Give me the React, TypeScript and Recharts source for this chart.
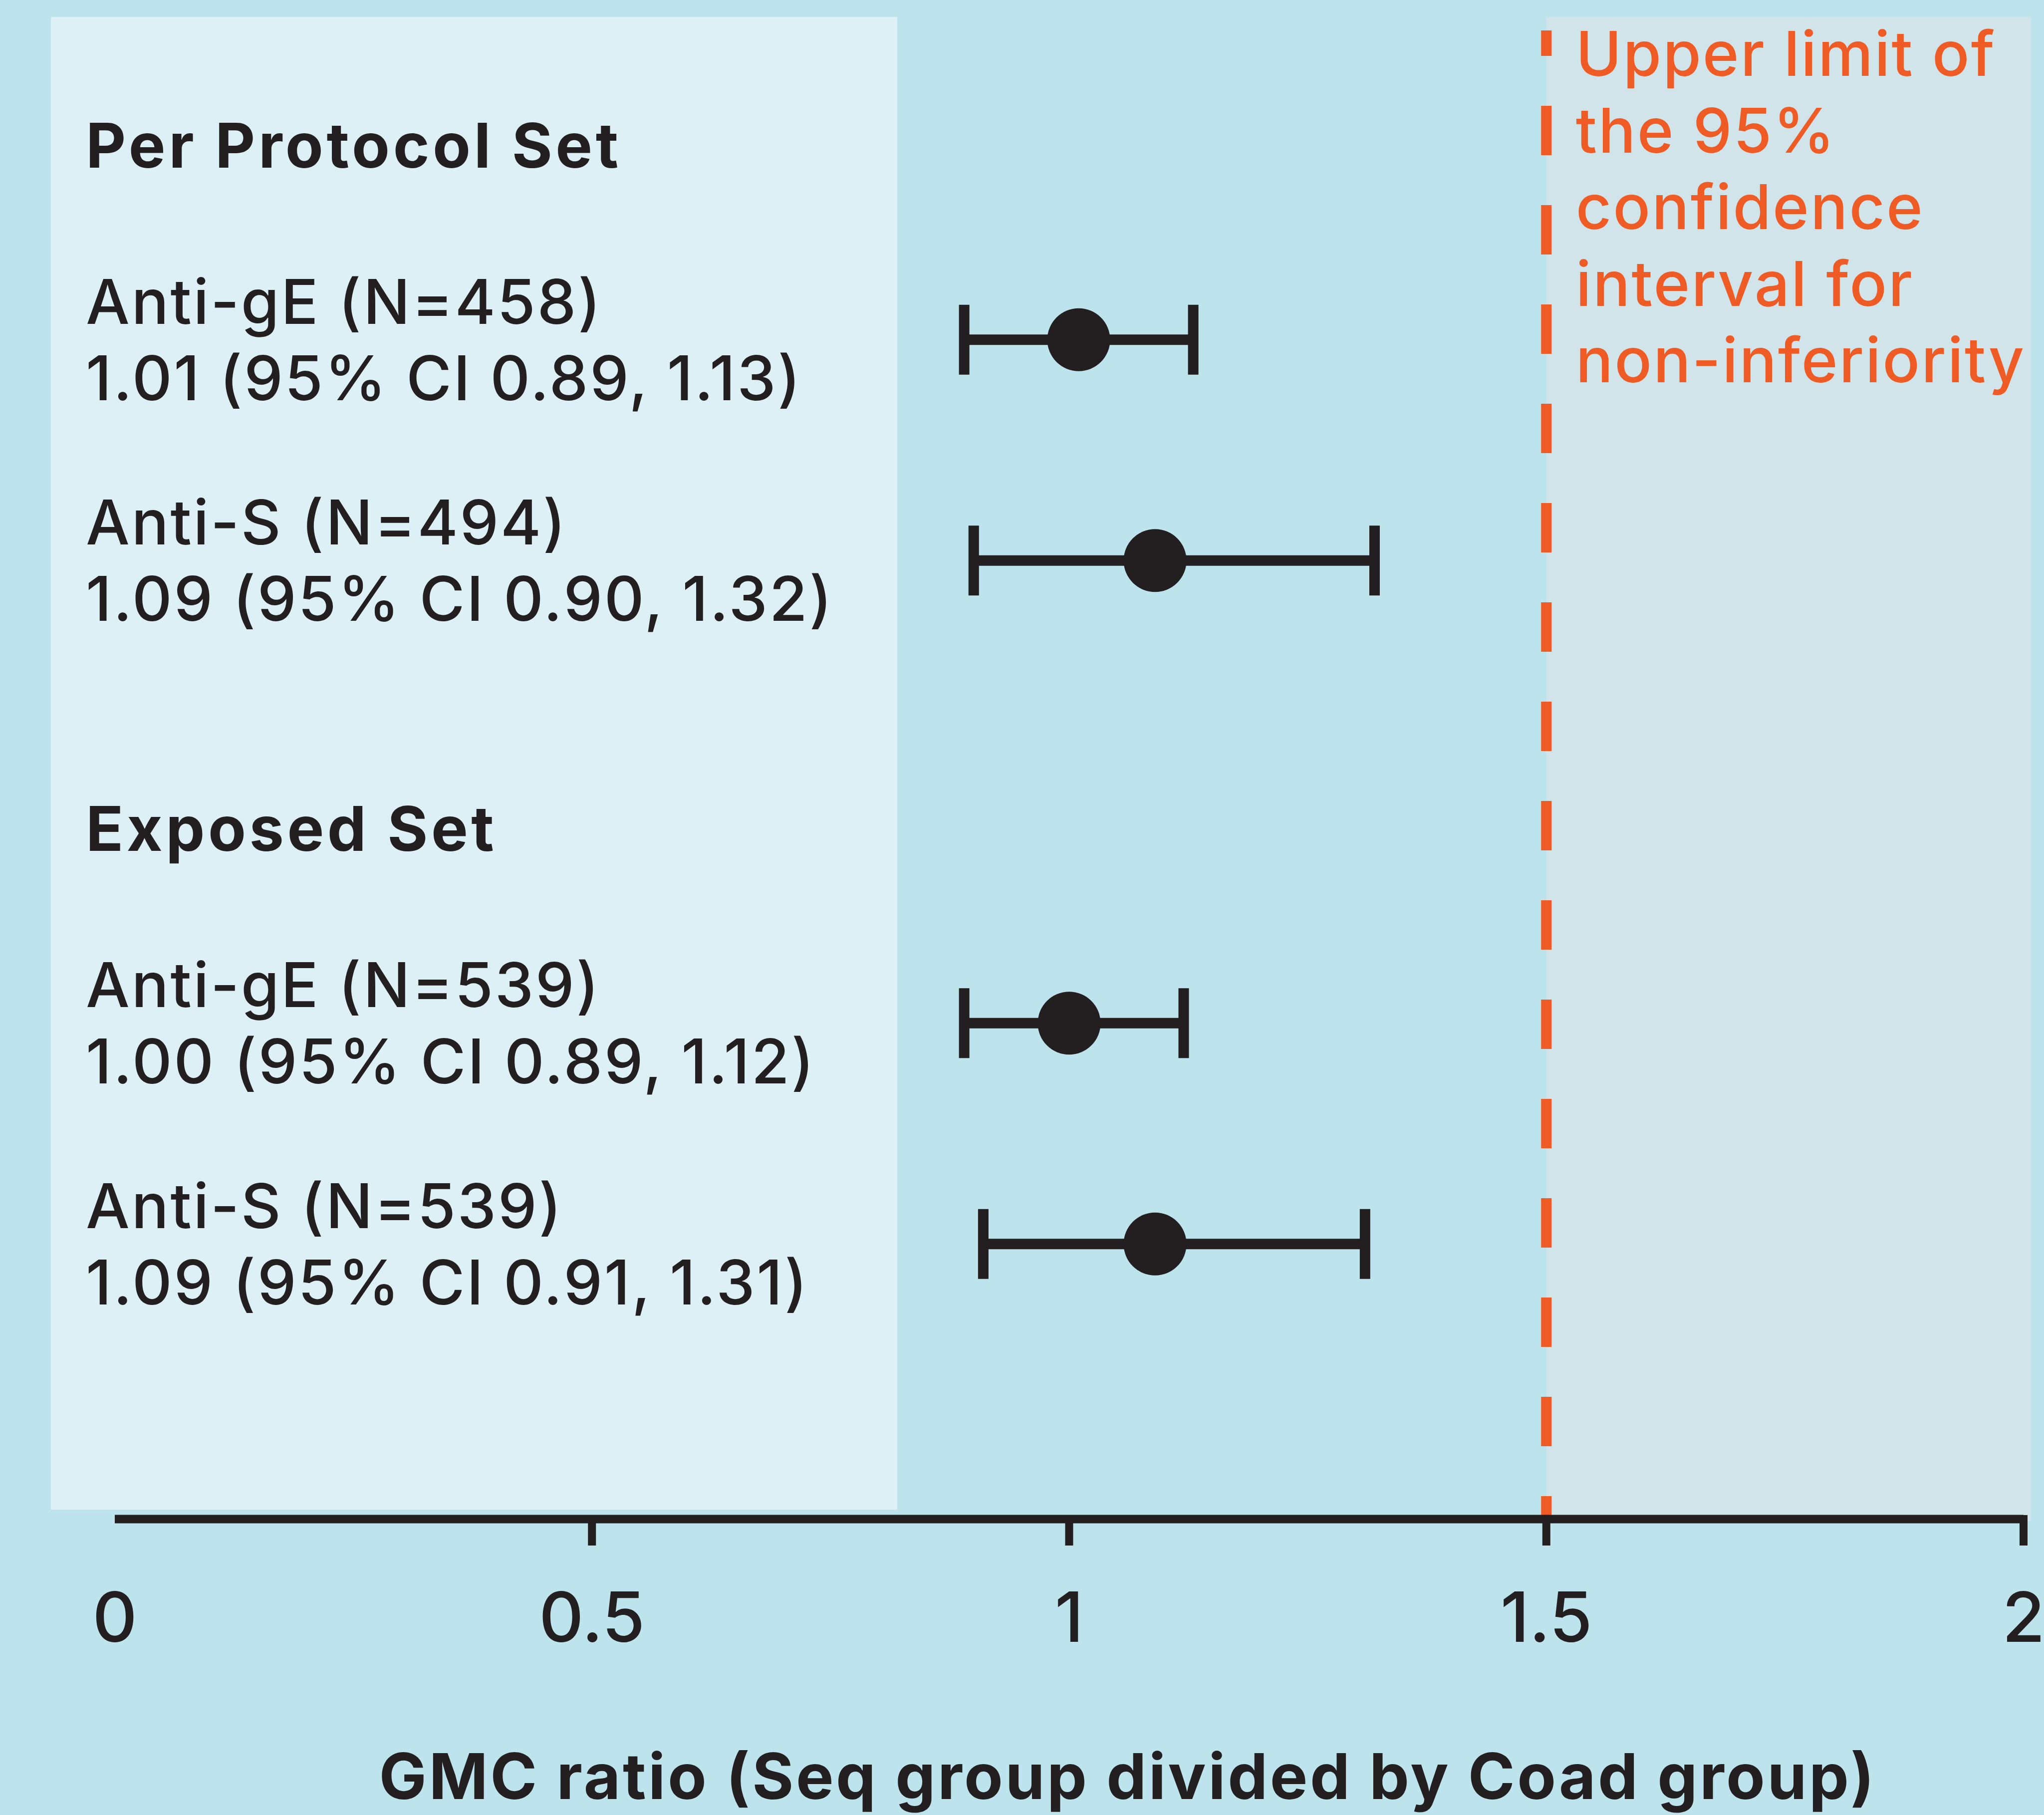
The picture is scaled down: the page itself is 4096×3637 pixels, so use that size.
import {
  ErrorBar,
  Label,
  ReferenceArea,
  ReferenceLine,
  Scatter,
  ScatterChart,
  XAxis,
  YAxis
} from "recharts";

// study sets and the antibody rows under each
const groups = ["Per Protocol Set", "Exposed Set"];
const antibodies = ["Anti-gE", "Anti-S", "Anti-gE", "Anti-S"];
const groupOf = [0, 0, 1, 1];
const nValues = [458, 494, 539, 539];
const gmcRatio = [1.01, 1.09, 1.0, 1.09];
const ciLower = [0.89, 0.9, 0.89, 0.91];
const ciUpper = [1.13, 1.32, 1.12, 1.31];

const xTicks = [0, 0.5, 1, 1.5, 2];
const niLimit = 1.5;
const annotationLines = ["Upper limit of", "the 95%", "confidence", "interval for", "non-inferiority"];
const axisTitle = "GMC ratio (Seq group divided by Coad group)";

const W = 4096;
const H = 3637;
const BG = "#BDE3ED";
const PANEL = "#DDF0F5";
const SHADE = "#D1E4EA";
const INK = "#231F20";
const ORANGE = "#EF5B25";
const FONT = "Inter, 'DejaVu Sans', sans-serif";
const GROUP_GAP = 1.095; // extra row slots between the two sets

const rows = antibodies.map((name, i) => ({
  name,
  group: groupOf[i],
  first: groupOf.indexOf(groupOf[i]) === i,
  n: nValues[i],
  ratio: gmcRatio[i],
  lo: ciLower[i],
  hi: ciUpper[i],
  slot: i + groupOf[i] * GROUP_GAP,
  err: [gmcRatio[i] - ciLower[i], ciUpper[i] - gmcRatio[i]]
}));

function RowTick({ y, payload }: any) {
  const row = rows.find((r) => Math.abs(r.slot - payload.value) < 1e-6);
  if (!row) {
    return null;
  }
  return (
    <g fontFamily={FONT} fill={INK}>
      {row.first && (
        <text x={172} y={y - 345} fontSize={124} fontWeight={700} letterSpacing={6.5}>
          {groups[row.group]}
        </text>
      )}
      <text x={172} y={y - 32} fontSize={124} fontWeight={500} letterSpacing={3.5}>
        {`${row.name} (N=${row.n})`}
      </text>
      <text x={172} y={y + 121} fontSize={124} fontWeight={500} letterSpacing={3.5}>
        {`${row.ratio.toFixed(2)} (95% CI ${row.lo.toFixed(2)}, ${row.hi.toFixed(2)})`}
      </text>
    </g>
  );
}

function AxisTick({ x, y, payload }: any) {
  const axisY = y - 53;
  return (
    <g>
      {payload.value !== 0 && (
        <line x1={x} x2={x} y1={axisY - 8} y2={y} stroke={INK} strokeWidth={16} />
      )}
      <text
        x={x}
        y={y + 193}
        textAnchor="middle"
        fontFamily={FONT}
        fontSize={139}
        fontWeight={500}
        fill={INK}
      >
        {String(payload.value)}
      </text>
    </g>
  );
}

function renderTitle() {
  return (
    <text
      x={2260}
      y={3605}
      textAnchor="middle"
      fontFamily={FONT}
      fontSize={127}
      fontWeight={700}
      letterSpacing={4.5}
      fill={INK}
    >
      {axisTitle}
    </text>
  );
}

function renderAnnotation(props: any) {
  const { x, y } = props.viewBox;
  return (
    <g fontFamily={FONT} fontSize={124} fontWeight={500} letterSpacing={3} fill={ORANGE}>
      {annotationLines.map((line, i) => (
        <text key={line} x={x + 59} y={y + 91 + i * 153.5}>
          {line}
        </text>
      ))}
    </g>
  );
}

export default function App() {
  return (
    <div
      style={{
        position: "absolute",
        left: 0,
        top: 0,
        width: W,
        height: H,
        background: BG,
        overflow: "hidden"
      }}
    >
      <div
        style={{ position: "absolute", left: 102, top: 34, width: 1696, height: 2991, background: PANEL }}
      />
      <div style={{ position: "absolute", left: 0, top: 0 }}>
        <ScatterChart width={W} height={H} margin={{ top: 61, right: 41, bottom: 0, left: 0 }}>
          <ReferenceArea
            x1={niLimit}
            x2={2}
            fill={SHADE}
            fillOpacity={1}
            ifOverflow="visible"
            shape={(p: any) => (
              <rect x={p.x} y={p.y - 27} width={p.width + 15} height={p.height + 31} fill={SHADE} />
            )}
          />
          <XAxis
            type="number"
            dataKey="ratio"
            domain={[0, 2]}
            ticks={xTicks}
            interval={0}
            height={593}
            tickSize={53}
            tickMargin={0}
            tickLine={false}
            axisLine={{ stroke: INK, strokeWidth: 17 }}
            tick={<AxisTick />}
          >
            <Label content={renderTitle} />
          </XAxis>
          <YAxis
            type="number"
            dataKey="slot"
            reversed
            allowDataOverflow
            // plot spans 61px..3044px; slot 0 sits at 681px, 442.5px per slot
            domain={[-1.4006, 5.3407]}
            ticks={rows.map((r) => r.slot)}
            interval={0}
            width={230}
            axisLine={false}
            tickLine={false}
            tick={<RowTick />}
          />
          <ReferenceLine
            x={niLimit}
            stroke={ORANGE}
            strokeWidth={21}
            strokeDasharray="99 100"
            strokeDashoffset={53}
            label={renderAnnotation}
          />
          <Scatter
            data={rows}
            fill={INK}
            isAnimationActive={false}
            shape={(p: any) => <circle cx={p.cx} cy={p.cy} r={63} fill={INK} />}
          >
            <ErrorBar
              dataKey="err"
              direction="x"
              width={70}
              stroke={INK}
              strokeWidth={21}
              isAnimationActive={false}
            />
          </Scatter>
        </ScatterChart>
      </div>
    </div>
  );
}
